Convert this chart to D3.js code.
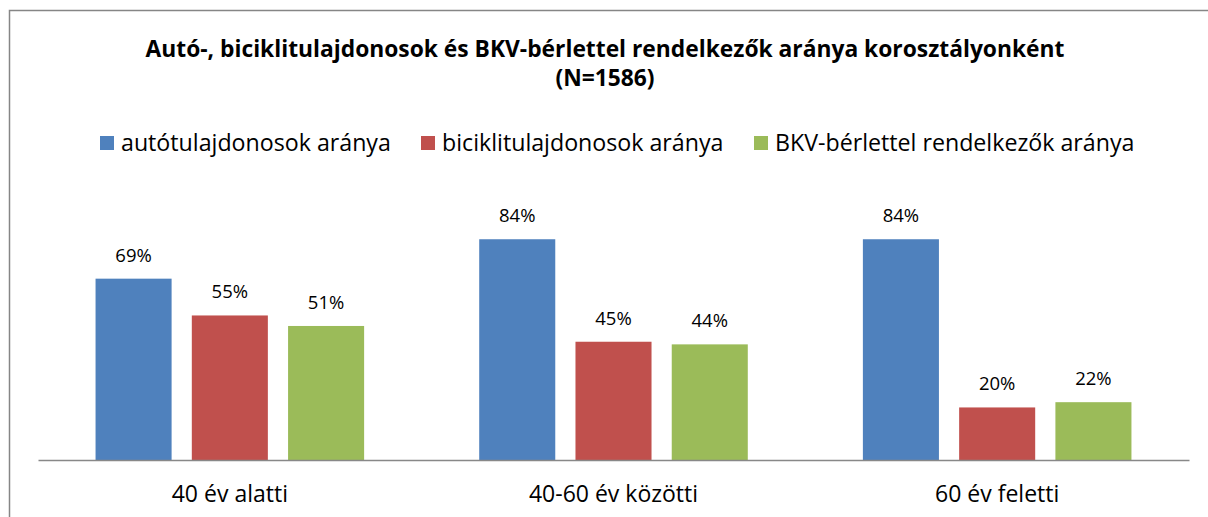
<!DOCTYPE html>
<html>
<head>
<meta charset="utf-8">
<style>
  body { margin: 0; background: #fff; }
  text { font-family: "Open Sans", Lato, sans-serif; fill: #000; }
</style>
</head>
<body>
<script src="https://d3js.org/d3.v7.min.js"></script>
<script>
// chart data
var categories = ["40 év alatti", "40-60 év közötti", "60 év feletti"];
var seriesNames = ["autótulajdonosok aránya", "biciklitulajdonosok aránya", "BKV-bérlettel rendelkezők aránya"];
var autoValues = [69, 84, 84];
var bicikliValues = [55, 45, 20];
var bkvValues = [51, 44, 22];
var colors = ["#4f81bd", "#c0504d", "#9bbb59"];
var titleLines = ["Autó-, biciklitulajdonosok és BKV-bérlettel rendelkezők aránya korosztályonként", "(N=1586)"];

var series = [autoValues, bicikliValues, bkvValues];

var W = 1208, H = 517;
var svg = d3.select("body").append("svg")
    .attr("width", W)
    .attr("height", H);

// outer border of the chart area
svg.append("rect")
    .attr("x", 9.5).attr("y", 10.5)
    .attr("width", 1210).attr("height", 520)
    .attr("fill", "none")
    .attr("stroke", "#868686")
    .attr("stroke-width", 1.5);

// title
svg.selectAll(".title")
    .data(titleLines)
    .enter().append("text")
    .attr("class", "title")
    .attr("x", 605)
    .attr("y", function (d, i) { return 57 + i * 29; })
    .attr("text-anchor", "middle")
    .style("font-weight", "bold")
    .style("font-size", "22.8px")
    .text(function (d) { return d; });

// scales
var x0 = d3.scaleBand().domain(categories).range([38, 1189]).paddingInner(0.3).paddingOuter(0.15);
var x1 = d3.scaleBand().domain(d3.range(3)).range([0, x0.bandwidth()]).paddingInner(0.21).paddingOuter(0);
var y = d3.scaleLinear().domain([0, 100]).range([460, 197.2]);

// bars
var groups = svg.selectAll(".grp")
    .data(categories)
    .enter().append("g")
    .attr("class", "grp")
    .attr("transform", function (d) { return "translate(" + x0(d) + ",0)"; });

groups.each(function (cat, ci) {
    var g = d3.select(this);
    series.forEach(function (vals, si) {
        g.append("rect")
            .attr("x", x1(si))
            .attr("y", y(vals[ci]))
            .attr("width", x1.bandwidth())
            .attr("height", y(0) - y(vals[ci]))
            .attr("fill", colors[si]);
        g.append("text")
            .attr("x", x1(si) + x1.bandwidth() / 2)
            .attr("y", y(vals[ci]) - 17)
            .attr("text-anchor", "middle")
            .style("font-size", "18.5px")
            .text(vals[ci] + "%");
    });
});

// x axis
var xAxis = svg.append("g")
    .attr("transform", "translate(0,460)")
    .call(d3.axisBottom(x0).tickSize(0).tickPadding(0));
xAxis.select(".domain").attr("stroke", "#888").attr("stroke-width", 1.5);
xAxis.selectAll(".tick text")
    .attr("dy", 0)
    .attr("y", 42)
    .style("font-size", "23px")
    .style("font-family", "'Open Sans', sans-serif")
    .attr("fill", "#000");

// legend
var legendX = [100, 421, 754];
var legend = svg.selectAll(".leg")
    .data(seriesNames)
    .enter().append("g")
    .attr("class", "leg")
    .attr("transform", function (d, i) { return "translate(" + legendX[i] + ",136)"; });
legend.append("rect")
    .attr("width", 14).attr("height", 14)
    .attr("fill", function (d, i) { return colors[i]; });
legend.append("text")
    .attr("x", 21).attr("y", 15)
    .style("font-size", "23.2px")
    .text(function (d) { return d; });
</script>
</body>
</html>
